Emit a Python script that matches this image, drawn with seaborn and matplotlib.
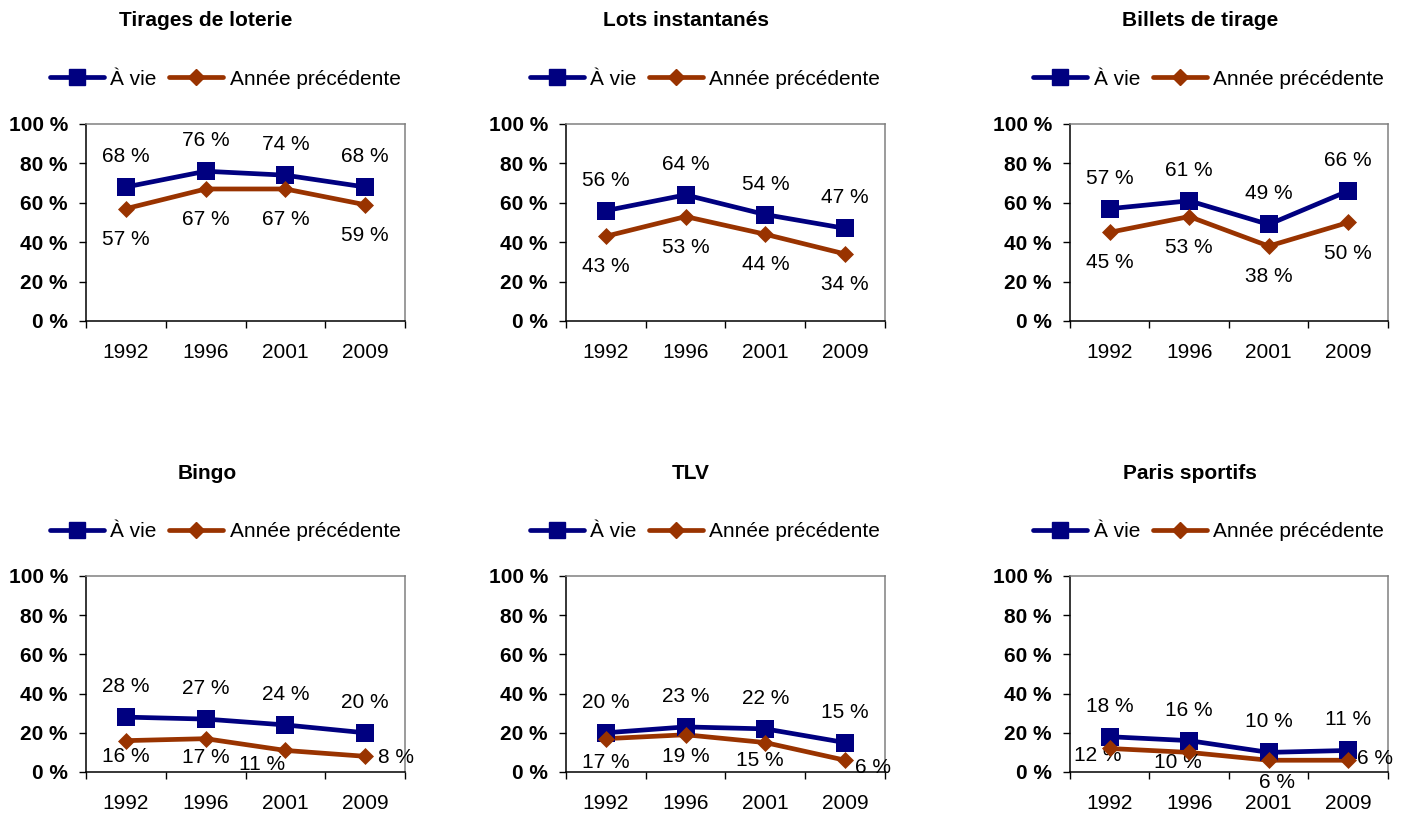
import matplotlib
matplotlib.use("Agg")
import matplotlib.pyplot as plt
from matplotlib.lines import Line2D
import seaborn as sns
import pandas as pd

# ---- data -------------------------------------------------------------
years = ["1992", "1996", "2001", "2009"]
titles = ["Tirages de loterie", "Lots instantanés", "Billets de tirage",
          "Bingo", "TLV", "Paris sportifs"]
series_names = ["À vie", "Année précédente"]
y_ticks = [0, 20, 40, 60, 80, 100]

tirages_vie = [68, 76, 74, 68]
tirages_annee = [57, 67, 67, 59]
lots_vie = [56, 64, 54, 47]
lots_annee = [43, 53, 44, 34]
billets_vie = [57, 61, 49, 66]
billets_annee = [45, 53, 38, 50]
bingo_vie = [28, 27, 24, 20]
bingo_annee = [16, 17, 11, 8]
tlv_vie = [20, 23, 22, 15]
tlv_annee = [17, 19, 15, 6]
paris_vie = [18, 16, 10, 11]
paris_annee = [12, 10, 6, 6]

vie_series = [tirages_vie, lots_vie, billets_vie, bingo_vie, tlv_vie, paris_vie]
annee_series = [tirages_annee, lots_annee, billets_annee,
                bingo_annee, tlv_annee, paris_annee]

# ---- styling ------------------------------------------------------------
sns.set_style("white")
plt.rcParams["font.family"] = ["Liberation Sans", "DejaVu Sans"]
plt.rcParams["text.color"] = "black"
plt.rcParams["xtick.color"] = "black"
plt.rcParams["ytick.color"] = "black"
plt.rcParams["axes.labelcolor"] = "black"

BLUE = "#000080"
RUST = "#993300"
FS = 15

# label offsets (points) for the "Année précédente" values, one list per panel
below = [(0, -22)] * 4
annee_offsets = [
    below, below, below,
    [(0, -11.5), (0, -13.5), (-17, -10), (22, -0.5)],
    [(0, -17), (0, -16), (-4, -13), (20, -5)],
    [(-8.5, -5), (-8.5, -7), (6, -16), (19.5, 1.5)],
]
title_x = [0.376, 0.376, 0.41, 0.38, 0.39, 0.377]

fig = plt.figure(figsize=(14.03, 8.14), dpi=100)

col_left = [0.0613, 0.4034, 0.7626]
col_width = [0.2274, 0.2274, 0.2267]
row_bottom = [0.6057, 0.0516]
row_height = [0.2420, 0.2408]

for i in range(6):
    r, c = divmod(i, 3)
    ax = fig.add_axes([col_left[c], row_bottom[r], col_width[c], row_height[r]])
    x = list(range(len(years)))
    df = pd.DataFrame({"x": x * 2,
                       "val": vie_series[i] + annee_series[i],
                       "serie": [series_names[0]] * 4 + [series_names[1]] * 4})
    sns.lineplot(data=df, x="x", y="val", hue="serie",
                 palette=[BLUE, RUST], linewidth=3.4, legend=False, ax=ax)
    # markers drawn on top of the lines
    sns.scatterplot(x=x, y=vie_series[i], marker="s", s=160, color=BLUE,
                    edgecolor=BLUE, linewidth=0, ax=ax, zorder=4, legend=False)
    sns.scatterplot(x=x, y=annee_series[i], marker="D", s=75, color=RUST,
                    edgecolor=RUST, linewidth=0, ax=ax, zorder=4, legend=False)

    for xi, v in zip(x, vie_series[i]):
        ax.annotate(f"{v} %", (xi, v), xytext=(0, 22), textcoords="offset points",
                    ha="center", va="center", fontsize=FS, annotation_clip=False)
    for xi, v, (dx, dy) in zip(x, annee_series[i], annee_offsets[i]):
        ax.annotate(f"{v} %", (xi, v), xytext=(dx, dy), textcoords="offset points",
                    ha="center", va="center", fontsize=FS, annotation_clip=False)

    ax.set_xlim(-0.5, len(years) - 0.5)
    ax.set_ylim(0, 100)
    ax.set_xticks([k - 0.5 for k in range(len(years) + 1)])
    ax.set_xticklabels([])
    ax.set_xticks(x, minor=True)
    ax.set_xticklabels(years, minor=True, fontsize=FS)
    ax.tick_params(axis="x", which="major", direction="out", length=5,
                   width=1, color="black", bottom=True)
    ax.tick_params(axis="x", which="minor", length=0, pad=16)
    ax.set_yticks(y_ticks)
    ax.set_yticklabels([f"{t} %" for t in y_ticks], fontsize=FS, fontweight="bold")
    ax.tick_params(axis="y", direction="out", length=5, width=1, color="black",
                   pad=8, left=True)
    ax.set_xlabel("")
    ax.set_ylabel("")
    for side in ("left", "bottom"):
        ax.spines[side].set_color("black")
        ax.spines[side].set_linewidth(1.1)
    for side in ("top", "right"):
        ax.spines[side].set_color("#808080")
        ax.spines[side].set_linewidth(1.1)

    ax.text(title_x[i], 1.523, titles[i], transform=ax.transAxes, ha="center",
            va="center", fontsize=FS, fontweight="bold")

    handles = [
        Line2D([], [], color=BLUE, lw=3.4, marker="s", markersize=12),
        Line2D([], [], color=RUST, lw=3.4, marker="D", markersize=8),
    ]
    ax.legend(handles, series_names, loc="center", bbox_to_anchor=(0.436, 1.228),
              ncol=2, frameon=False, fontsize=FS, handlelength=2.6,
              handletextpad=0.3, columnspacing=0.6, borderaxespad=0,
              borderpad=0)

fig.savefig("out.png", dpi=100)
